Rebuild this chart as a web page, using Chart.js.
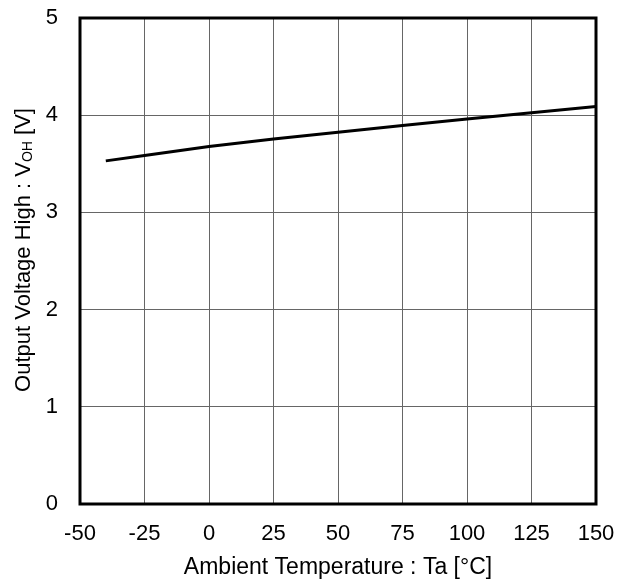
<!DOCTYPE html>
<html>
<head>
<meta charset="utf-8">
<script src="https://cdn.jsdelivr.net/npm/chart.js@4/dist/chart.umd.min.js"></script>
<style>
  html,body{margin:0;padding:0;background:#fff;}
  #wrap{width:632px;height:586px;}
</style>
</head>
<body>
<div id="wrap"><canvas id="c" width="632" height="586"></canvas></div>
<script>
// datos
const tempC = [-40, -25, 0, 25, 50, 75, 100, 125, 150];
const vohV = [3.53, 3.585, 3.677, 3.755, 3.825, 3.893, 3.96, 4.026, 4.09];
const xTicks = [-50, -25, 0, 25, 50, 75, 100, 125, 150];
const yTicks = [0, 1, 2, 3, 4, 5];

const FONT = "Liberation Sans, Arial, sans-serif";

// marco negro + titulos de ejes (con subindice)
const framePlugin = {
  id: "frame",
  afterDraw(chart){
    const {ctx, chartArea:a} = chart;
    ctx.save();
    ctx.strokeStyle = "#000";
    ctx.lineWidth = 3;
    ctx.strokeRect(a.left, a.top, a.right - a.left, a.bottom - a.top);

    ctx.fillStyle = "#000";
    ctx.textBaseline = "middle";
    // titulo eje x
    ctx.font = "23px " + FONT;
    ctx.textAlign = "center";
    ctx.fillText("Ambient Temperature : Ta [°C]", (a.left + a.right) / 2, 568);

    // titulo eje y, rotado
    ctx.translate(24, 250);
    ctx.rotate(-Math.PI / 2);
    const p1 = "Output Voltage High : V", sub = "OH", p2 = " [V]";
    ctx.font = "22px " + FONT;
    const w1 = ctx.measureText(p1).width, w3 = ctx.measureText(p2).width;
    ctx.font = "14px " + FONT;
    const w2 = ctx.measureText(sub).width;
    let x = -(w1 + w2 + w3) / 2;
    ctx.textAlign = "left";
    ctx.font = "22px " + FONT;
    ctx.fillText(p1, x, 0);
    x += w1;
    ctx.font = "14px " + FONT;
    ctx.fillText(sub, x, 4);
    x += w2;
    ctx.font = "22px " + FONT;
    ctx.fillText(p2, x, 0);
    ctx.restore();
  }
};

new Chart(document.getElementById("c").getContext("2d"), {
  type: "line",
  data: {
    datasets: [{
      data: tempC.map((t, i) => ({x: t, y: vohV[i]})),
      borderColor: "#000",
      borderWidth: 3,
      pointRadius: 0,
      tension: 0,
      fill: false
    }]
  },
  options: {
    responsive: false,
    animation: false,
    layout: { padding: { top: 18, right: 36, left: 0, bottom: 0 } },
    plugins: { legend: { display: false }, tooltip: { enabled: false } },
    scales: {
      x: {
        type: "linear",
        min: -50, max: 150,
        afterBuildTicks: s => { s.ticks = xTicks.map(v => ({value: v})); },
        afterFit: s => { s.height = 82; s.paddingLeft = 0; s.paddingRight = 0; },
        grid: { color: "#666", lineWidth: 1, drawTicks: false },
        border: { display: false },
        ticks: { color: "#000", padding: 17, maxRotation: 0, font: { family: FONT, size: 22 } }
      },
      y: {
        type: "linear",
        min: 0, max: 5,
        afterBuildTicks: s => { s.ticks = yTicks.map(v => ({value: v})); },
        afterFit: s => { s.width = 80; s.paddingTop = 0; s.paddingBottom = 0; },
        grid: { color: "#666", lineWidth: 1, drawTicks: false },
        border: { display: false },
        ticks: { color: "#000", padding: 22, font: { family: FONT, size: 22 } }
      }
    }
  },
  plugins: [framePlugin]
});
</script>
</body>
</html>
